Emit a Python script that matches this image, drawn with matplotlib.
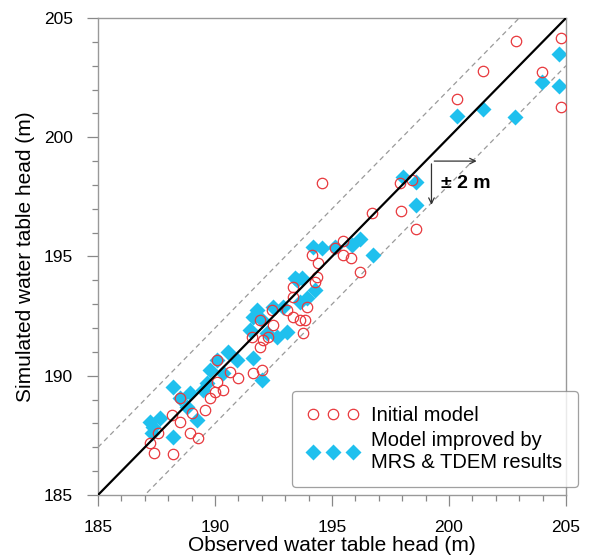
import numpy as np
import matplotlib.pyplot as plt
from matplotlib.ticker import MultipleLocator

# initial model (red open circles)
obs_init = [202.85, 204.8, 201.47, 203.99, 204.8, 200.34, 197.9, 198.4,
            197.93, 196.72, 198.59, 194.57, 195.48, 195.13, 195.46, 195.8,
            196.2, 194.13, 194.42, 194.34, 194.27,
            193.35, 193.35, 193.92, 193.63, 193.85, 193.77, 193.35, 192.42,
            191.92, 192.49, 192.06, 191.57, 191.92, 191.64, 191.99, 191.0,
            190.64, 190.07, 190.07, 190.36, 190.0, 189.79, 189.57, 188.5,
            188.15, 188.5, 189.0, 188.93, 189.29, 187.58, 187.22, 187.39,
            188.22, 192.28, 193.06]
sim_init = [204.05, 204.15, 202.78, 202.72, 201.28, 201.6, 198.1, 198.2,
            196.92, 196.84, 196.17, 198.08, 195.66, 195.34, 195.06, 194.95,
            194.36, 195.06, 194.71, 194.16, 193.94,
            193.73, 193.31, 192.9, 192.34, 192.34, 191.78, 192.48, 192.76,
            192.34, 192.13, 191.5, 191.64, 191.22, 190.1, 190.24, 189.89,
            190.17, 190.66, 189.75, 189.4, 189.33, 189.05, 188.56, 189.05,
            188.35, 188.07, 188.43, 187.59, 187.38, 187.59, 187.17, 186.75,
            186.71, 191.64, 192.76]

# improved model (cyan diamonds)
obs_impr = [204.7, 203.99, 204.7, 201.47, 200.34, 202.83, 198.02, 198.59,
            198.59, 195.13, 196.2, 195.84, 196.74, 194.2, 194.56, 193.5,
            194.27, 193.42, 193.7, 193.92, 193.63, 192.92, 192.49, 191.78,
            191.64, 191.99, 191.5, 192.21, 192.63, 193.06, 191.64, 191.99,
            190.93, 190.57, 190.07, 189.79, 190.36, 189.64, 189.5, 188.22,
            188.5, 188.93, 188.79, 189.22, 188.22, 187.65, 187.22, 187.36,
            187.29]
sim_impr = [203.5, 202.3, 202.15, 201.18, 200.89, 200.86, 198.35, 198.14,
            197.16, 195.41, 195.72, 195.48, 195.06, 195.41, 195.34, 194.0,
            193.6, 194.09, 194.09, 193.25, 193.1, 192.9, 192.9, 192.76,
            192.48, 192.34, 191.92, 191.78, 191.64, 191.85, 190.73, 189.82,
            190.66, 191.01, 190.66, 190.24, 190.1, 189.68, 189.4, 189.54,
            189.05, 189.26, 188.7, 188.14, 187.44, 188.21, 188.07, 187.86,
            187.59]

lims = [185, 205]
band = 2

plt.rcParams['font.family'] = ['Liberation Sans', 'DejaVu Sans']

fig = plt.figure(figsize=(5.89, 5.57), dpi=100)
ax = fig.add_axes([0.1664, 0.1113, 0.7946, 0.8564])

x = np.array(lims, dtype=float)
ax.plot(x, x + band, ls=(0, (4, 3)), color='#9a9a9a', lw=0.9, zorder=1)
ax.plot(x, x - band, ls=(0, (4, 3)), color='#9a9a9a', lw=0.9, zorder=1)

ax.plot(obs_impr, sim_impr, 'D', ms=8.5, color='#1fc0ee', mec='none',
        label='Model improved by\nMRS & TDEM results', zorder=2)
ax.plot(obs_init, sim_init, 'o', ms=7.5, mfc='none', mec='#e8383d', mew=0.9,
        label='Initial model', zorder=3)
ax.plot(x, x, color='black', lw=1.6, zorder=4)

# +/- 2 m annotation
ax.annotate('', xy=(201.3, 199.0), xytext=(199.25, 199.0),
            arrowprops=dict(arrowstyle='->', color='#333333', lw=0.9))
ax.annotate('', xy=(199.25, 197.05), xytext=(199.25, 199.0),
            arrowprops=dict(arrowstyle='->', color='#333333', lw=0.9))
ax.text(199.65, 198.05, '± 2 m', fontsize=14, fontweight='bold', va='center')

ax.set_xlim(lims)
ax.set_ylim(lims)
ax.xaxis.set_major_locator(MultipleLocator(5))
ax.yaxis.set_major_locator(MultipleLocator(5))
ax.xaxis.set_minor_locator(MultipleLocator(1))
ax.yaxis.set_minor_locator(MultipleLocator(1))
ax.tick_params(which='major', direction='out', length=8, width=0.9,
               color='#888888', labelsize=12.5, pad=10)
ax.tick_params(which='minor', direction='out', length=4, width=0.9,
               color='#888888')
for s in ax.spines.values():
    s.set_color('#999999')
    s.set_linewidth(1.0)

ax.set_xlabel('Observed water table head (m)', fontsize=15, labelpad=1)
ax.set_ylabel('Simulated water table head (m)', fontsize=15, labelpad=6)

h, l = ax.get_legend_handles_labels()
leg = ax.legend([h[1], h[0]], [l[1], l[0]], loc='lower left',
                bbox_to_anchor=(0.414, 0.017), borderaxespad=0, numpoints=3,
                fontsize=14.5, frameon=True, fancybox=True, handlelength=2.6,
                handletextpad=0.6, borderpad=0.75, labelspacing=0.3)
leg.get_frame().set_edgecolor('#888888')
leg.get_frame().set_linewidth(0.9)
leg.set_zorder(5)

fig.savefig('out.png', dpi=100)
